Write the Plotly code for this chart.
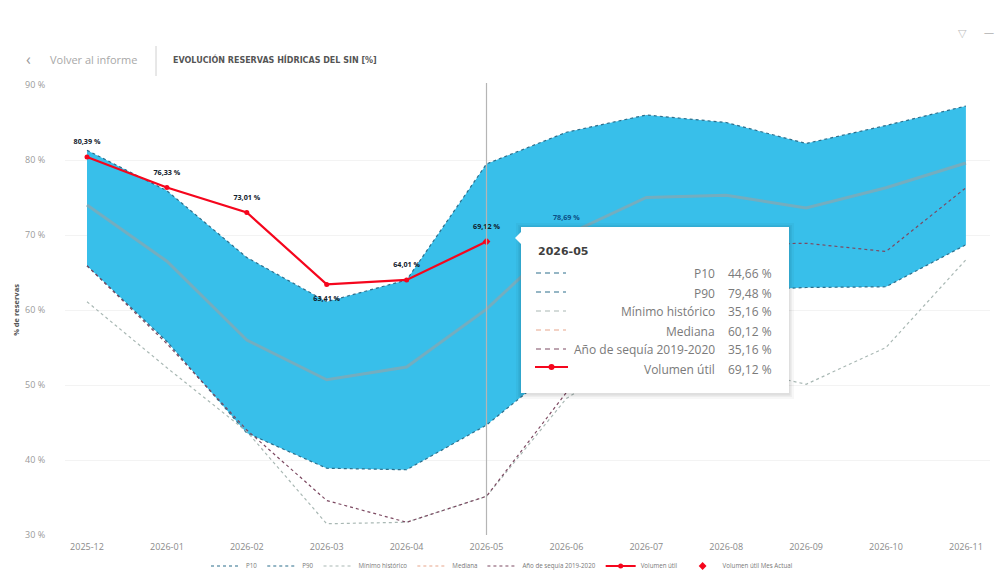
import plotly.graph_objects as go

W, H = 1000, 573
L, R, T, B = 65, 990, 85, 535

months = ["2025-12", "2026-01", "2026-02", "2026-03", "2026-04", "2026-05",
          "2026-06", "2026-07", "2026-08", "2026-09", "2026-10", "2026-11"]
p10 = [65.9, 55.8, 43.6, 38.9, 38.7, 44.66, 53.3, 58.5, 62.5, 63.0, 63.1, 68.7]
p90 = [81.3, 75.9, 67.0, 61.1, 64.0, 79.48, 83.7, 86.0, 85.0, 82.2, 84.6, 87.2]
minimo = [61.1, 52.3, 43.8, 31.5, 31.7, 35.16, 48.2, 55.0, 52.5, 50.1, 55.0, 66.7]
mediana = [74.0, 66.5, 56.0, 50.7, 52.4, 60.12, 70.0, 75.0, 75.3, 73.6, 76.3, 79.6]
sequia = [65.9, 55.5, 44.0, 34.6, 31.7, 35.16, 49.0, 60.0, 68.7, 68.9, 67.8, 76.3]
volumen_months = ["2025-12", "2026-01", "2026-02", "2026-03", "2026-04", "2026-05"]
volumen = [80.39, 76.33, 73.01, 63.41, 64.01, 69.12]
volumen_labels = ["80,39 %", "76,33 %", "73,01 %", "63,41 %", "64,01 %", "69,12 %"]
label_positions = ["top center", "top center", "top center", "bottom center", "top center", "top center"]
mes_actual_month = ["2026-05"]
mes_actual = [69.12]
extra_label_month = ["2026-06"]
extra_label_y = [72.3]
extra_label = ["78,69 %"]

tooltip_title = "2026-05"
tooltip_names = ["P10", "P90", "Mínimo histórico", "Mediana", "Año de sequía 2019-2020", "Volumen útil"]
tooltip_values = ["44,66 %", "79,48 %", "35,16 %", "60,12 %", "35,16 %", "69,12 %"]

C_P = "#2d6f8c"
C_MIN = "#a9b8b4"
C_MED = "#74adbf"
C_MED_KEY = "#e8a58c"
C_SEQ = "#7d4a62"
C_RED = "#f5061d"
C_FILL = "#38bfea"
FONT = "Open Sans"
DASH = "3px,3px"


def px(x):
    return (x - L) / (R - L)


def py(y):
    return (B - y) / (B - T)


fig = go.Figure()
fig.add_trace(go.Scatter(x=months, y=p10, name="P10", mode="lines",
                         line=dict(color=C_P, width=1.2, dash=DASH)))
fig.add_trace(go.Scatter(x=months, y=p90, name="P90", mode="lines", fill="tonexty", showlegend=False,
                         fillcolor=C_FILL, line=dict(color=C_P, width=1.2, dash=DASH)))
fig.add_trace(go.Scatter(x=[None], y=[None], name="P90", mode="lines",
                         line=dict(color=C_P, width=1.2, dash=DASH)))
fig.add_trace(go.Scatter(x=months, y=minimo, name="Mínimo histórico", mode="lines",
                         line=dict(color=C_MIN, width=1.2, dash=DASH)))
fig.add_trace(go.Scatter(x=months, y=mediana, name="Mediana", mode="lines", showlegend=False,
                         line=dict(color=C_MED, width=3)))
fig.add_trace(go.Scatter(x=[None], y=[None], name="Mediana", mode="lines",
                         line=dict(color=C_MED_KEY, width=1.2, dash=DASH)))
fig.add_trace(go.Scatter(x=months, y=sequia, name="Año de sequía 2019-2020", mode="lines",
                         line=dict(color=C_SEQ, width=1.2, dash=DASH)))
fig.add_trace(go.Scatter(x=volumen_months, y=volumen, name="Volumen útil",
                         mode="lines+markers",
                         line=dict(color=C_RED, width=2.2),
                         marker=dict(color=C_RED, size=5)))
# Invisible wider markers push the value labels further from the line, as in the reference.
fig.add_trace(go.Scatter(x=volumen_months, y=volumen, mode="markers+text", showlegend=False,
                         text=volumen_labels, textposition=label_positions,
                         textfont=dict(family=FONT, size=7.2, color="#10202c", weight="bold"),
                         marker=dict(size=16, color="rgba(0,0,0,0)")))
fig.add_trace(go.Scatter(x=mes_actual_month, y=mes_actual, name="Volumen útil Mes Actual",
                         mode="markers", marker=dict(color=C_RED, size=6, symbol="diamond")))
fig.add_trace(go.Scatter(x=extra_label_month, y=extra_label_y, mode="text", text=extra_label,
                         showlegend=False,
                         textfont=dict(family=FONT, size=7.2, color="#0b4f86", weight="bold")))

shapes = [
    dict(type="line", xref="x", yref="paper", x0="2026-05", x1="2026-05", y0=0, y1=py(83),
         line=dict(color="#b5b5b5", width=1.2), layer="above"),
    dict(type="line", xref="paper", yref="paper", x0=px(156), x1=px(156), y0=py(46), y1=py(76),
         line=dict(color="#d0d0d0", width=1)),
]
for grow, alpha in ((5, 0.03), (3, 0.04), (1.5, 0.06)):
    shapes.append(dict(type="rect", xref="paper", yref="paper", x0=px(521 - grow), x1=px(789 + grow),
                       y0=py(393 + grow + 1), y1=py(227 - grow + 1), line_width=0,
                       fillcolor=f"rgba(0,0,0,{alpha})", layer="above"))
shapes.append(dict(type="rect", xref="paper", yref="paper", x0=px(521), x1=px(789),
                   y0=py(393), y1=py(227), line_width=0, fillcolor="white", layer="above"))
shapes.append(dict(type="path", xref="paper", yref="paper", layer="above", line_width=0, fillcolor="white",
                   path=f"M {px(522)} {py(231)} L {px(515)} {py(238)} L {px(522)} {py(245)} Z"))
sample_y = [273, 292, 311, 330, 349]
sample_col = [C_P, C_P, C_MIN, C_MED_KEY, C_SEQ]
for yy, col in zip(sample_y, sample_col):
    shapes.append(dict(type="line", xref="paper", yref="paper", x0=px(536), x1=px(566), y0=py(yy), y1=py(yy),
                       line=dict(color=col, width=1.2, dash="5px,4px"), layer="above"))
shapes.append(dict(type="line", xref="paper", yref="paper", x0=px(535), x1=px(568), y0=py(367), y1=py(367),
                   line=dict(color=C_RED, width=2.2), layer="above"))
shapes.append(dict(type="circle", xref="paper", yref="paper", x0=px(548.5), x1=px(554.5), y0=py(370), y1=py(364),
                   line_width=0, fillcolor=C_RED, layer="above"))


def note(x, y, text, size, color, anchor="left", bold=False, family=FONT):
    return dict(xref="paper", yref="paper", x=px(x), y=py(y), text=f"<b>{text}</b>" if bold else text,
                showarrow=False, xanchor=anchor, yanchor="middle",
                font=dict(family=family, size=size, color=color))


annotations = [
    note(24, 59, "‹", 16, "#9a9a9a"),
    note(48, 60, "Volver al informe", 11, "#a8a8a8"),
    note(171, 59, "EVOLUCIÓN RESERVAS HÍDRICAS DEL SIN [%]", 8, "#555555", bold=True, family="DejaVu Sans"),
    note(962, 32, "▽", 11, "#bdbdbd", anchor="center"),
    note(989, 32, "—", 10, "#bdbdbd", anchor="center"),
    note(536, 252, tooltip_title, 11, "#404040", bold=True, family="DejaVu Sans"),
]
for yy, name, val in zip([273, 293, 311, 331, 349, 369], tooltip_names, tooltip_values):
    annotations.append(note(717, yy, name, 12, "#7a7a7a", anchor="right"))
    annotations.append(note(774, yy, val, 12, "#7a7a7a", anchor="right"))

fig.update_layout(
    width=W, height=H, autosize=False,
    margin=dict(l=L, r=W - R, t=T, b=H - B, pad=0, autoexpand=False),
    paper_bgcolor="white", plot_bgcolor="white",
    font=dict(family=FONT, color="#8a8a8a"),
    shapes=shapes, annotations=annotations,
    hovermode=False,
    legend=dict(orientation="h", x=px(502), y=py(566), xanchor="center", yanchor="middle",
                traceorder="normal",
                font=dict(family=FONT, size=6.2, color="#777777"),
                itemwidth=30, tracegroupgap=0, bgcolor="rgba(0,0,0,0)"),
    xaxis=dict(type="category", categoryorder="array", categoryarray=months,
               range=[(L - 87) / 79.9, (R - 87) / 79.9],
               showgrid=False, zeroline=False, showline=False,
               ticks="outside", ticklen=3, tickcolor="rgba(0,0,0,0)",
               tickfont=dict(family=FONT, size=9, color="#8a8a8a")),
    yaxis=dict(range=[30, 90], dtick=10, ticksuffix=" %",
               showgrid=True, gridcolor="#f3f3f3", gridwidth=1, zeroline=False, showline=False,
               ticks="outside", ticklen=17, tickcolor="rgba(0,0,0,0)",
               tickfont=dict(family=FONT, size=9, color="#9a9a9a"),
               title=dict(text="<b>% de reservas</b>", standoff=4,
                          font=dict(family=FONT, size=7.5, color="#555555"))),
)

fig.write_html("out.html", config=dict(displayModeBar=False),
               post_script="document.body.style.margin='0';document.documentElement.style.overflow='hidden';")
